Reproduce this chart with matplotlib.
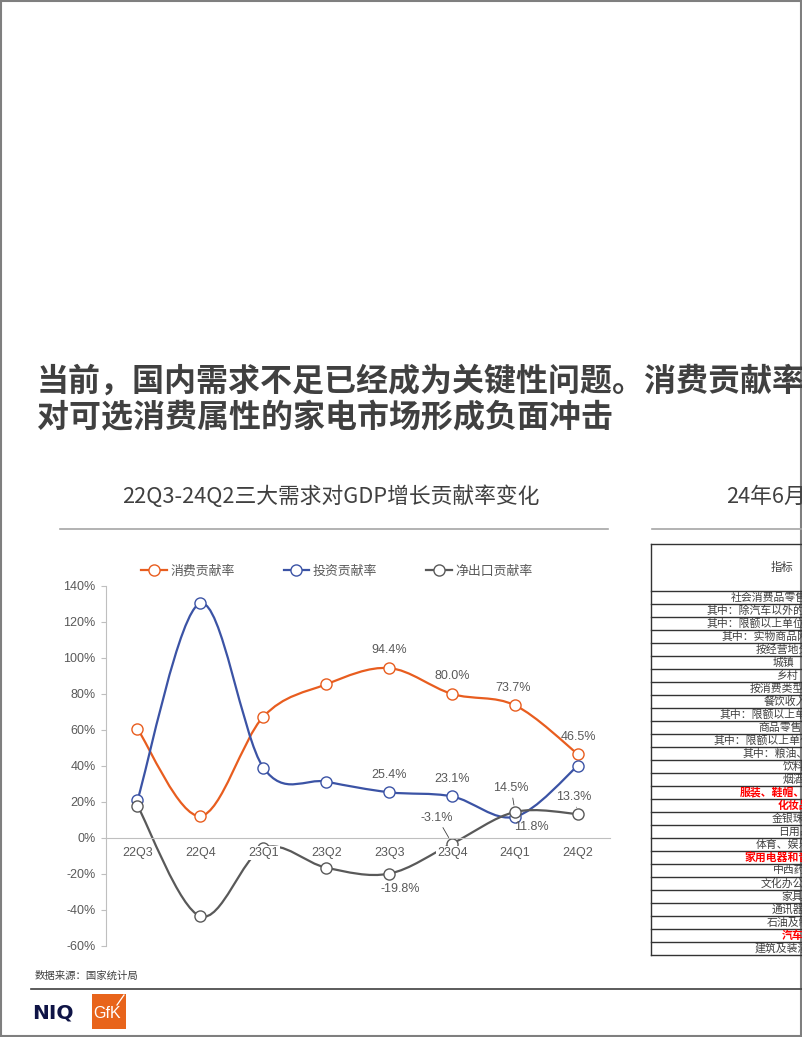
import matplotlib
matplotlib.use('Agg')
import matplotlib.pyplot as plt
from matplotlib.path import Path
from matplotlib.patches import PathPatch, Rectangle
from matplotlib.lines import Line2D
import numpy as np

# ---------------- data ----------------
quarters = ['22Q3', '22Q4', '23Q1', '23Q2', '23Q3', '23Q4', '24Q1', '24Q2']
consumption = [60.6, 12.2, 67.4, 85.4, 94.4, 80.0, 73.7, 46.5]
investment = [21.1, 130.4, 39.1, 31.3, 25.4, 23.1, 11.8, 40.2]
net_exports = [18.0, -43.5, -5.6, -16.5, -19.8, -3.1, 14.5, 13.3]
series_names = ['消费贡献率', '投资贡献率', '净出口贡献率']
y_ticks = [-60, -40, -20, 0, 20, 40, 60, 80, 100, 120, 140]

main_title = ['当前，国内需求不足已经成为关键性问题。消费贡献率',
              '对可选消费属性的家电市场形成负面冲击']
chart_title = '22Q3-24Q2三大需求对GDP增长贡献率变化'
table_title = '24年6月社会消费品零售总额主要数据'
table_header = '指标'
table_rows = ['社会消费品零售总额', '其中：除汽车以外的消费品零售额', '其中：限额以上单位消费品零售额',
              '其中：实物商品网上零售额', '按经营地分', '城镇', '乡村', '按消费类型分', '餐饮收入',
              '其中：限额以上单位餐饮收入', '商品零售', '其中：限额以上单位商品零售',
              '其中：粮油、食品类', '饮料类', '烟酒类', '服装、鞋帽、针纺织品类', '化妆品类',
              '金银珠宝类', '日用品类', '体育、娱乐用品类', '家用电器和音像器材类', '中西药品类',
              '文化办公用品类', '家具类', '通讯器材类', '石油及制品类', '汽车类', '建筑及装潢材料类']
highlight_rows = ['服装、鞋帽、针纺织品类', '化妆品类', '家用电器和音像器材类', '汽车类']
source_text = '数据来源：国家统计局'

# ---------------- layout / style ----------------
W, H = 802, 1037
colors = ['#E85D1F', '#3B53A5', '#595959']
row_text_x = [730.7, 706.7, 706.7, 721.7, 756, 772.7, 776.7, 750, 763.3, 720, 758.3, 714,
              742.7, 782.7, 782.7, 740, 777.3, 771.7, 777.7, 756, 744.3, 772.7, 760.7,
              781.7, 771.7, 766.7, 781.7, 755]
# (series index, point index, dx px, dy px, leader line)
label_specs = [(0, 4, 0, 18, False), (0, 5, 0, 18, False), (0, 6, -2, 17, False), (0, 7, 0, 17, False),
               (1, 4, 0, 17, False), (1, 5, 0, 17, False), (1, 6, 16, -10, False),
               (2, 6, -4, 24, True), (2, 7, -4, 17, True), (2, 5, -15, 26, True), (2, 4, 11, -15, False)]

plt.rcParams['font.family'] = ['Liberation Sans', 'Noto Sans CJK SC']
CJK = ['Noto Sans CJK SC', 'DejaVu Sans']
TXT = '#595959'

fig = plt.figure(figsize=(W / 100, H / 100), dpi=100)
fig.patch.set_facecolor('white')

# ---------------- chart ----------------
ax = fig.add_axes([106 / W, 1 - 946 / H, 503.5 / W, 360 / H])
ax.set_xlim(-0.5, len(quarters) - 0.5)
ax.set_ylim(-60, 140)
ax.set_facecolor('none')
ax.set_axisbelow(False)
ax.xaxis.set_zorder(2.5)
ax.yaxis.set_zorder(2.5)

for s in ['top', 'right']:
    ax.spines[s].set_visible(False)
ax.spines['left'].set_color('#bfbfbf')
ax.spines['left'].set_linewidth(0.8)
ax.spines['bottom'].set_position(('data', 0))
ax.spines['bottom'].set_color('#bfbfbf')
ax.spines['bottom'].set_linewidth(0.8)

ax.set_xticks(range(len(quarters)))
ax.set_xticklabels(quarters)
ax.set_yticks(y_ticks)
ax.set_yticklabels([f'{v}%' for v in y_ticks])
ax.tick_params(axis='x', length=0, pad=6.5, labelsize=9, labelcolor=TXT)
ax.tick_params(axis='y', length=3.5, width=0.8, color='#bfbfbf', pad=4, labelsize=9, labelcolor=TXT)
for lbl in ax.get_xticklabels():
    lbl.set_bbox(dict(facecolor='white', edgecolor='none', pad=0.8))


def smooth_path(xs, ys):
    pts = np.column_stack([xs, ys]).astype(float)
    n = len(pts)
    verts = [pts[0]]
    codes = [Path.MOVETO]
    for i in range(n - 1):
        p0 = pts[i - 1] if i > 0 else pts[i]
        p1 = pts[i]
        p2 = pts[i + 1]
        p3 = pts[i + 2] if i + 2 < n else pts[i + 1]
        c1 = p1 + (p2 - p0) / 6.0
        c2 = p2 - (p3 - p1) / 6.0
        verts += [c1, c2, p2]
        codes += [Path.CURVE4] * 3
    return Path(verts, codes)


all_series = [consumption, investment, net_exports]
xs = np.arange(len(quarters))
handles = []
for vals, col, name in zip(all_series, colors, series_names):
    patch = PathPatch(smooth_path(xs, vals), facecolor='none', edgecolor=col, lw=1.6,
                      transform=ax.transData, zorder=1.9, capstyle='round', joinstyle='round')
    ax.add_patch(patch)
    ax.plot(xs, vals, linestyle='none', marker='o', ms=8, mfc='white', mec=col, mew=1.0, zorder=2.1)
    handles.append(Line2D([0], [0], color=col, lw=1.6, marker='o', ms=8, mfc='white', mec=col,
                          mew=1.0, label=name))

for si, pi, dx, dy, leader in label_specs:
    v = all_series[si][pi]
    kw = {}
    if leader:
        kw['arrowprops'] = dict(arrowstyle='-', color='#404040', lw=0.6, shrinkA=1, shrinkB=5)
    ax.annotate(f'{v:.1f}%', xy=(pi, v), xytext=(dx, dy), textcoords='offset pixels',
                ha='center', va='center', fontsize=9, color=TXT, zorder=3, **kw)

leg = ax.legend(handles=handles, loc='center left', bbox_to_anchor=(141 / W, 1 - 571 / H),
                bbox_transform=fig.transFigure, ncol=3, frameon=False,
                prop={'family': CJK, 'size': 9.3}, handlelength=2.0, handletextpad=0.25,
                columnspacing=3.8, borderpad=0, borderaxespad=0, labelcolor=TXT)

# ---------------- overlay (page) ----------------
ov = fig.add_axes([0, 0, 1, 1], zorder=5)
ov.set_xlim(0, W)
ov.set_ylim(H, 0)
ov.axis('off')
ov.patch.set_alpha(0)

# page border
ov.add_patch(Rectangle((0.8, 0.8), W - 2.0, H - 2.0, fill=False, ec='#7f7f7f', lw=1.5))

# main title
for i, line in enumerate(main_title):
    ov.text(37, 382 + 36 * i, line, fontsize=23.0, fontweight='bold', color='#404040',
            family=CJK, ha='left', va='center')

# sub titles
ov.text(331, 497, chart_title, fontsize=15.7, color='#404040', family=CJK, ha='center', va='center')
ov.text(726, 497, table_title, fontsize=15.7, color='#404040', family=CJK, ha='left', va='center')
ov.plot([60, 608], [529, 529], color='#a6a6a6', lw=1.2)
ov.plot([652, 802], [529, 529], color='#a6a6a6', lw=1.2)

# table
top, head_bot, row_h = 544, 591, 13.0
n = len(table_rows)
ov.plot([651, 651], [top, head_bot + row_h * n], color='#333333', lw=1.0)
ov.plot([651, W], [top, top], color='#333333', lw=1.0)
for k in range(n + 1):
    y = head_bot + row_h * k
    ov.plot([651, W], [y, y], color='#333333', lw=1.0)
ov.text(770.7, 567, table_header, fontsize=8.2, color='#404040', family=CJK, ha='left', va='center')
for k, (row, tx) in enumerate(zip(table_rows, row_text_x)):
    red = row in highlight_rows
    ov.text(tx, head_bot + row_h * (k + 0.5), row, fontsize=7.8, family=CJK,
            color='#ff0000' if red else '#404040', fontweight='bold' if red else 'normal',
            ha='left', va='center')

# source + footer
ov.text(35, 976, source_text, fontsize=7.5, color='#404040', family=CJK, ha='left', va='center')
ov.plot([31, W], [988.5, 988.5], color='#404040', lw=1.2)

# logos
ov.text(32, 1013, 'NIQ', fontsize=14.5, fontweight='bold', color='#0f1446', family='DejaVu Sans',
        ha='left', va='center')
ov.add_patch(Rectangle((91.7, 994), 34.3, 35, fc='#E8641B', ec='none'))
ov.text(107, 1014, 'GfK', fontsize=11.5, color='white', family='Liberation Sans', ha='center', va='center')
ov.plot([117, 124], [1005, 995], color='white', lw=0.9)

fig.savefig('out.png', dpi=100)
